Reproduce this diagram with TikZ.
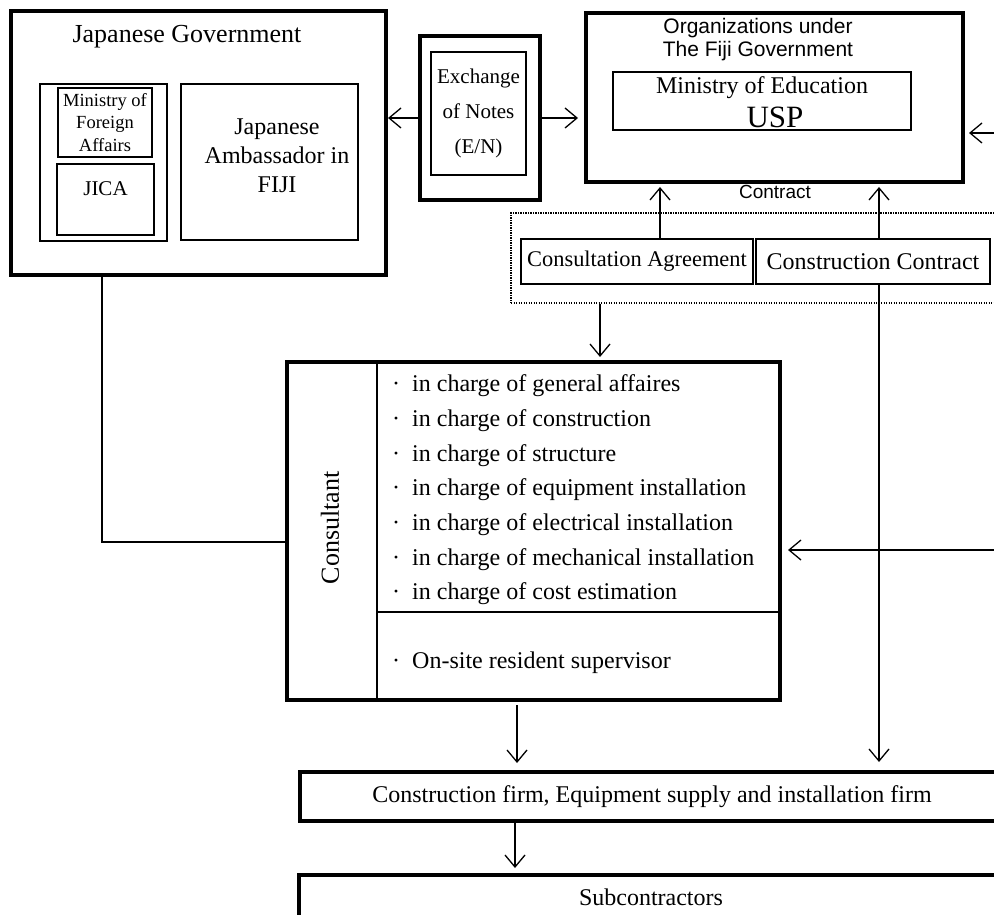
\documentclass[tikz,border=0pt]{standalone}
\usepackage{fontspec}
\setmainfont{Liberation Serif}
\newfontfamily\arialfont{Liberation Sans}
\usetikzlibrary{positioning,arrows.meta}
\newcommand{\fs}[2]{\fontsize{#1}{#2}\selectfont}
\tikzset{
  frame/.style={draw, line width=4pt, inner sep=0pt},
  box/.style={draw, line width=1.3pt, inner sep=0pt},
  midbox/.style={draw, line width=1.8pt, inner sep=0pt},
  txt/.style={inner sep=0pt, align=center},
  flow/.style={-{Straight Barb[length=12pt, width=20pt]}, line width=1.3pt},
  link/.style={line width=1.3pt},
}

\begin{document}
\begin{tikzpicture}[x=1pt, y=-1pt]
  \useasboundingbox (0,0) rectangle (994,915);
  \clip (0,0) rectangle (994,915);
  % japanese government
  \node[frame, minimum width=375pt, minimum height=264pt] (jgov) at (198.5,143) {};
  \node[txt, font=\fs{26}{30}] (jgovtitle) at (187,37) {Japanese Government};
  \node[box, minimum width=127pt, minimum height=157pt] (jside) at (103.5,162.5) {};
  \node[box, minimum width=94pt, minimum height=69pt, align=center, font=\fs{18.5}{22.5}] (mofa) at (105,122.5) {Ministry of\\Foreign\\Affairs};
  \node[midbox, minimum width=97pt, minimum height=71pt] (jica) at (105.5,199.5) {};
  \node[txt, anchor=base, font=\fs{21}{25}] (jicatxt) at (105.5,195.5) {JICA};
  \node[box, minimum width=177pt, minimum height=156pt] (amb) at (269.5,162) {};
  \node[txt, font=\fs{24}{29}] (ambtxt) at (277,156) {Japanese\\Ambassador in\\FIJI};
  % exchange of notes
  \node[frame, minimum width=120pt, minimum height=164pt] (en) at (480,118) {};
  \node[midbox, minimum width=95pt, minimum height=123pt, align=center, font=\fs{21}{35}] (entxt) at (478.5,113.5) {Exchange\\of Notes\\(E/N)};
  % fiji side
  \node[frame, minimum width=377pt, minimum height=169pt] (org) at (774.5,97.5) {};
  \node[txt, font=\arialfont\fs{21}{23}] (orgtitle) at (758,40) {Organizations under\\The Fiji Government};
  \node[box, line width=1.7pt, minimum width=298pt, minimum height=58pt] (moe) at (762,101) {};
  \node[txt, font=\fs{24}{28}] (moetxt) at (762,88) {Ministry of Education};
  \node[txt, font=\fs{31}{35}] (usp) at (775,117) {USP};
  % contracts
  \node[txt, font=\arialfont\fs{19}{22}] (contract) at (775,192) {Contract};
  \node[draw, line width=1.2pt, dash pattern=on 1.2pt off 1.3pt, inner sep=0pt, minimum width=489pt, minimum height=90pt] (deals) at (755.5,258) {};
  \node[midbox, minimum width=232pt, minimum height=45pt, font=\fs{22.4}{26}] (ca) at (637,261.5) {Consultation Agreement};
  \node[midbox, minimum width=234pt, minimum height=45pt, font=\fs{24}{28}] (cc) at (873,261.5) {Construction Contract};
  % consultant
  \node[frame, minimum width=493pt, minimum height=338pt] (cons) at (533.5,531) {};
  \coordinate (split) at (377,0);
  \coordinate (rule) at (0,612);
  \draw[link] (split |- cons.north) -- (split |- cons.south);
  \draw[link, line width=1.8pt] (split |- rule) -- (rule -| cons.east);
  \node[txt, rotate=90, font=\fs{26}{30}] (conslabel) at (330,528) {Consultant};
  \node[txt, anchor=west, align=left, font=\fs{24}{34.7}] (duties) at (392,490) {%
    ·\hspace{.5em}in charge of general affaires\\
    ·\hspace{.5em}in charge of construction\\
    ·\hspace{.5em}in charge of structure\\
    ·\hspace{.5em}in charge of equipment installation\\
    ·\hspace{.5em}in charge of electrical installation\\
    ·\hspace{.5em}in charge of mechanical installation\\
    ·\hspace{.5em}in charge of cost estimation};
  \node[txt, anchor=west, font=\fs{24}{28}] (resident) at (392,663) {·\hspace{.5em}On-site resident supervisor};
  % firms
  \node[frame, minimum width=704pt, minimum height=49pt, font=\fs{24}{28}] (firm) at (652,796.5) {Construction firm, Equipment supply and installation firm};
  \node[frame, minimum width=704pt, minimum height=44pt, font=\fs{24}{28}] (sub) at (651,897) {Subcontractors};
  % arrows
  \coordinate (xa) at (660,0);
  \coordinate (xb) at (879,0);
  \coordinate (xc) at (600,0);
  \coordinate (xd) at (517,0);
  \coordinate (xe) at (515,0);
  \coordinate (xf) at (102,0);
  \coordinate (orgin) at (994,133);
  \coordinate (consin) at (994,550);
  \coordinate (govline) at (0,542);
  \draw[flow] (en.west) -- (en.west -| jgov.east);
  \draw[flow, shorten >=6pt] (en.east) -- (en.east -| org.west);
  \draw[flow, shorten >=4pt] (orgin) -- (orgin -| org.east);
  \draw[flow, shorten >=3pt] (xa |- ca.north) -- (xa |- org.south);
  \draw[flow, shorten >=3pt] (xb |- cc.north) -- (xb |- org.south);
  \draw[flow, shorten >=3pt] (xc |- deals.south) -- (xc |- cons.north);
  \draw[flow, shorten >=8pt] (xb |- cc.south) -- (xb |- firm.north);
  \draw[flow, shorten >=6pt] (consin) -- (consin -| cons.east);
  \draw[flow, shorten <=3pt, shorten >=7pt] (xd |- cons.south) -- (xd |- firm.north);
  \draw[flow, shorten >=5pt] (xe |- firm.south) -- (xe |- sub.north);
  \draw[link] (xf |- jgov.south) |- (cons.west |- govline);
\end{tikzpicture}
\end{document}
